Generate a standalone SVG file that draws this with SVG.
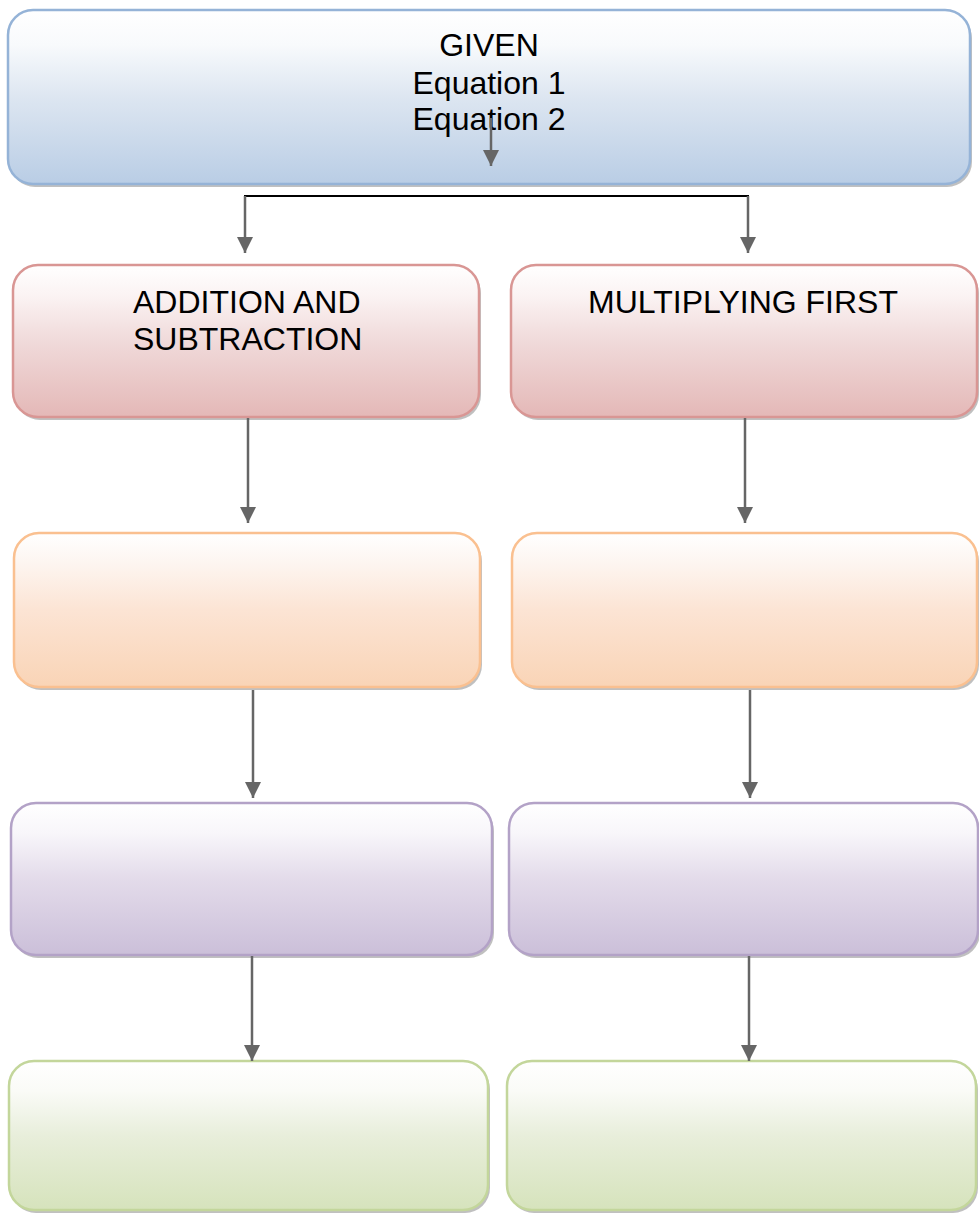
<svg xmlns="http://www.w3.org/2000/svg" width="979" height="1214" viewBox="0 0 979 1214">
<style>
.box{stroke-width:2.5}
.sh{fill:#8c8c8c;opacity:0.55}
.t{font-family:"Liberation Sans",Arial,sans-serif;font-size:32px;fill:#000}
.arr{stroke:#666;stroke-width:2.5;fill:none;marker-end:url(#ah)}
.ln{stroke:#000;stroke-width:2;fill:none}
</style>
<defs>
<marker id="ah" viewBox="0 0 16 16" refX="16" refY="8" markerWidth="16" markerHeight="16" markerUnits="userSpaceOnUse" orient="auto">
<path d="M0,0 L16,8 L0,16 z" fill="#666"/>
</marker>
<linearGradient id="gB" x1="0" y1="0" x2="0" y2="1"><stop offset="0" stop-color="#ffffff"/><stop offset="0.2" stop-color="#f8fafc"/><stop offset="0.5" stop-color="#dde6f1"/><stop offset="1" stop-color="#b9cde5"/></linearGradient>
<linearGradient id="gP" x1="0" y1="0" x2="0" y2="1"><stop offset="0" stop-color="#ffffff"/><stop offset="0.2" stop-color="#fbf3f3"/><stop offset="0.5" stop-color="#f0dada"/><stop offset="1" stop-color="#e4b8b7"/></linearGradient>
<linearGradient id="gO" x1="0" y1="0" x2="0" y2="1"><stop offset="0" stop-color="#ffffff"/><stop offset="0.2" stop-color="#fdf5f0"/><stop offset="0.5" stop-color="#fce4d4"/><stop offset="1" stop-color="#f9d4b6"/></linearGradient>
<linearGradient id="gU" x1="0" y1="0" x2="0" y2="1"><stop offset="0" stop-color="#ffffff"/><stop offset="0.2" stop-color="#f8f6fa"/><stop offset="0.5" stop-color="#e3dbea"/><stop offset="1" stop-color="#cbbfd9"/></linearGradient>
<linearGradient id="gG" x1="0" y1="0" x2="0" y2="1"><stop offset="0" stop-color="#ffffff"/><stop offset="0.2" stop-color="#fafbf7"/><stop offset="0.5" stop-color="#e8eedb"/><stop offset="1" stop-color="#d6e3bc"/></linearGradient>
</defs>

<g id="given">
<rect class="sh" x="10" y="13" width="962" height="174" rx="25"/>
<rect class="box" x="8" y="10" width="962" height="174" rx="25" fill="url(#gB)" stroke="#95b3d7"/>
<text class="t" text-anchor="middle" x="489" y="56">GIVEN</text>
<text class="t" text-anchor="middle" x="489" y="94">Equation 1</text>
<text class="t" text-anchor="middle" x="489" y="130">Equation 2</text>
</g>

<g id="addsub">
<rect class="sh" x="15" y="268" width="466" height="152" rx="25"/>
<rect class="box" x="13" y="265" width="466" height="152" rx="25" fill="url(#gP)" stroke="#d99694"/>
<text class="t" x="133" y="313">ADDITION AND</text>
<text class="t" x="133" y="350">SUBTRACTION</text>
</g>
<g id="multfirst">
<rect class="sh" x="513" y="268" width="466" height="152" rx="25"/>
<rect class="box" x="511" y="265" width="466" height="152" rx="25" fill="url(#gP)" stroke="#d99694"/>
<text class="t" text-anchor="middle" x="743" y="313">MULTIPLYING FIRST</text>
</g>

<g id="orangeL">
<rect class="sh" x="16" y="536" width="466" height="154" rx="25"/>
<rect class="box" x="14" y="533" width="466" height="154" rx="25" fill="url(#gO)" stroke="#fac090"/>
</g>
<g id="orangeR">
<rect class="sh" x="514" y="536" width="465" height="154" rx="25"/>
<rect class="box" x="512" y="533" width="465" height="154" rx="25" fill="url(#gO)" stroke="#fac090"/>
</g>

<g id="purpleL">
<rect class="sh" x="13" y="806" width="481" height="152" rx="25"/>
<rect class="box" x="11" y="803" width="481" height="152" rx="25" fill="url(#gU)" stroke="#b3a2c7"/>
</g>
<g id="purpleR">
<rect class="sh" x="511" y="806" width="469" height="152" rx="25"/>
<rect class="box" x="509" y="803" width="469" height="152" rx="25" fill="url(#gU)" stroke="#b3a2c7"/>
</g>

<g id="greenL">
<rect class="sh" x="11" y="1064" width="479" height="149" rx="25"/>
<rect class="box" x="9" y="1061" width="479" height="149" rx="25" fill="url(#gG)" stroke="#c3d69b"/>
</g>
<g id="greenR">
<rect class="sh" x="509" y="1064" width="469" height="149" rx="25"/>
<rect class="box" x="507" y="1061" width="469" height="149" rx="25" fill="url(#gG)" stroke="#c3d69b"/>
</g>

<g id="connectors">
<line class="arr" x1="491" y1="118" x2="491" y2="166"/>
<polyline class="ln" points="245,222 245,196 748,196 748,222"/>
<line class="arr" x1="245" y1="196" x2="245" y2="253"/>
<line class="arr" x1="748" y1="196" x2="748" y2="253"/>
<line class="arr" x1="248" y1="418" x2="248" y2="523"/>
<line class="arr" x1="745" y1="418" x2="745" y2="523"/>
<line class="arr" x1="253" y1="690" x2="253" y2="798"/>
<line class="arr" x1="750" y1="690" x2="750" y2="798"/>
<line class="arr" x1="252" y1="956" x2="252" y2="1061"/>
<line class="arr" x1="749" y1="956" x2="749" y2="1061"/>
</g>
</svg>
